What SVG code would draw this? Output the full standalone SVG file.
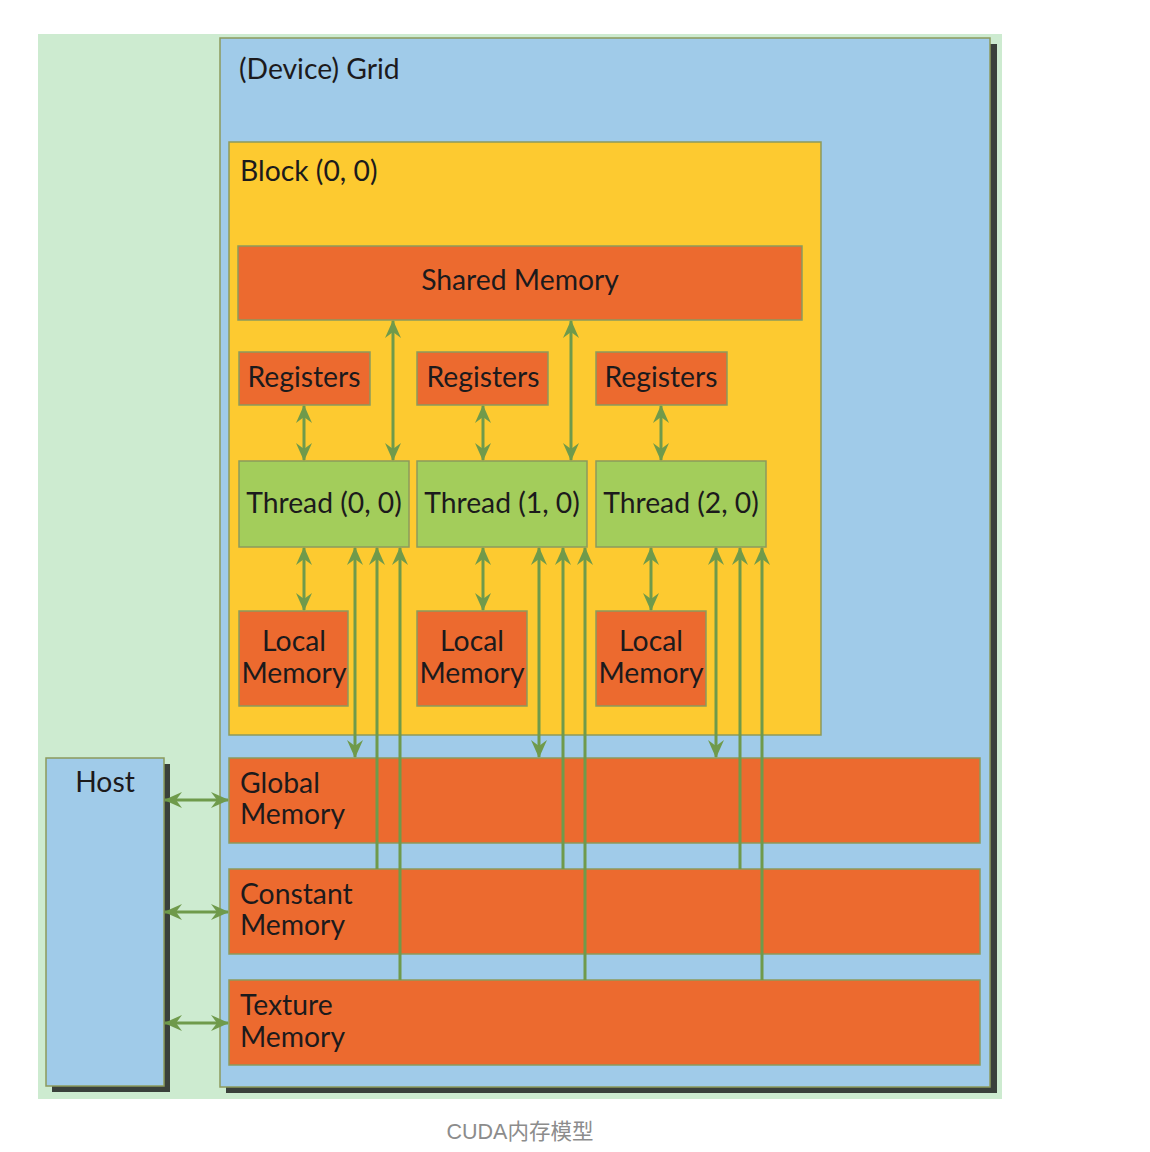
<svg xmlns="http://www.w3.org/2000/svg" width="1150" height="1152" viewBox="0 0 1150 1152">
<style>
.t{font-family:Lato,"Noto Sans","Liberation Sans",sans-serif;font-size:28.3px;fill:#1c1a1c}
.c{text-anchor:middle}
.box{stroke:#8c9a5c;stroke-width:1.5}
.mem{fill:#ec6a2f}
.thr{fill:#a3cd5b}
.ar{stroke:#6f9a4b;stroke-width:3;fill:none}
.shadow{fill:#3a403b}
</style>
<defs>
<marker id="ah" viewBox="0 0 18 16" refX="17" refY="8" markerWidth="18" markerHeight="16" markerUnits="userSpaceOnUse" orient="auto-start-reverse">
<path d="M0,0 L18,8 L0,16 L6,8 z" fill="#6f9a4b"/>
</marker>
</defs>
<rect x="0" y="0" width="1150" height="1152" fill="#ffffff"/>
<rect x="38" y="34" width="964" height="1065" fill="#cdebd0"/>
<g id="grid">
<rect class="shadow" x="226" y="44" width="771" height="1049"/>
<rect class="box" x="220" y="38" width="770" height="1049" fill="#a0cbe9"/>
<text class="t" x="239" y="79">(Device) Grid</text>
</g>
<g id="host">
<rect class="shadow" x="52" y="764" width="118" height="328"/>
<rect class="box" x="46" y="758" width="118" height="328" fill="#a0cbe9"/>
<text class="t c" x="105" y="792">Host</text>
</g>
<g id="block">
<rect class="box" x="229" y="142" width="592" height="593" fill="#fdca30"/>
<text class="t" x="240" y="181">Block (0, 0)</text>
</g>
<g id="shared">
<rect class="box mem" x="238" y="246" width="564" height="74"/>
<text class="t c" x="520" y="290">Shared Memory</text>
</g>
<g id="reg0"><rect class="box mem" x="239" y="352" width="131" height="53"/><text class="t c" x="304" y="387">Registers</text></g>
<g id="reg1"><rect class="box mem" x="417" y="352" width="131" height="53"/><text class="t c" x="483" y="387">Registers</text></g>
<g id="reg2"><rect class="box mem" x="596" y="352" width="131" height="53"/><text class="t c" x="661" y="387">Registers</text></g>
<g id="thread0"><rect class="box thr" x="239" y="461" width="170" height="86"/><text class="t c" x="324" y="513">Thread (0, 0)</text></g>
<g id="thread1"><rect class="box thr" x="417" y="461" width="170" height="86"/><text class="t c" x="502" y="513">Thread (1, 0)</text></g>
<g id="thread2"><rect class="box thr" x="596" y="461" width="170" height="86"/><text class="t c" x="681" y="513">Thread (2, 0)</text></g>
<g id="local0"><rect class="box mem" x="239" y="611" width="109" height="95"/><text class="t c" x="294" y="651">Local</text><text class="t c" x="294" y="683">Memory</text></g>
<g id="local1"><rect class="box mem" x="417" y="611" width="110" height="95"/><text class="t c" x="472" y="651">Local</text><text class="t c" x="472" y="683">Memory</text></g>
<g id="local2"><rect class="box mem" x="596" y="611" width="110" height="95"/><text class="t c" x="651" y="651">Local</text><text class="t c" x="651" y="683">Memory</text></g>
<g id="global"><rect class="box mem" x="229" y="758" width="751" height="85"/><text class="t" x="240" y="793">Global</text><text class="t" x="240" y="824">Memory</text></g>
<g id="constant"><rect class="box mem" x="229" y="869" width="751" height="85"/><text class="t" x="240" y="904">Constant</text><text class="t" x="240" y="935">Memory</text></g>
<g id="texture"><rect class="box mem" x="229" y="980" width="751" height="85"/><text class="t" x="240" y="1015">Texture</text><text class="t" x="240" y="1047">Memory</text></g>
<g id="connectors">
<line class="ar" x1="393" y1="321" x2="393" y2="460" marker-start="url(#ah)" marker-end="url(#ah)"/>
<line class="ar" x1="571" y1="321" x2="571" y2="460" marker-start="url(#ah)" marker-end="url(#ah)"/>
<line class="ar" x1="304" y1="406" x2="304" y2="460" marker-start="url(#ah)" marker-end="url(#ah)"/>
<line class="ar" x1="483" y1="406" x2="483" y2="460" marker-start="url(#ah)" marker-end="url(#ah)"/>
<line class="ar" x1="661" y1="406" x2="661" y2="460" marker-start="url(#ah)" marker-end="url(#ah)"/>
<line class="ar" x1="304" y1="548" x2="304" y2="610" marker-start="url(#ah)" marker-end="url(#ah)"/>
<line class="ar" x1="483" y1="548" x2="483" y2="610" marker-start="url(#ah)" marker-end="url(#ah)"/>
<line class="ar" x1="651" y1="548" x2="651" y2="610" marker-start="url(#ah)" marker-end="url(#ah)"/>
<line class="ar" x1="355" y1="548" x2="355" y2="757" marker-start="url(#ah)" marker-end="url(#ah)"/>
<line class="ar" x1="539" y1="548" x2="539" y2="757" marker-start="url(#ah)" marker-end="url(#ah)"/>
<line class="ar" x1="716" y1="548" x2="716" y2="757" marker-start="url(#ah)" marker-end="url(#ah)"/>
<line class="ar" x1="377" y1="869" x2="377" y2="548" marker-end="url(#ah)"/>
<line class="ar" x1="563" y1="869" x2="563" y2="548" marker-end="url(#ah)"/>
<line class="ar" x1="740" y1="869" x2="740" y2="548" marker-end="url(#ah)"/>
<line class="ar" x1="400" y1="980" x2="400" y2="548" marker-end="url(#ah)"/>
<line class="ar" x1="585" y1="980" x2="585" y2="548" marker-end="url(#ah)"/>
<line class="ar" x1="762" y1="980" x2="762" y2="548" marker-end="url(#ah)"/>
<line class="ar" x1="165" y1="800" x2="228" y2="800" marker-start="url(#ah)" marker-end="url(#ah)"/>
<line class="ar" x1="165" y1="912" x2="228" y2="912" marker-start="url(#ah)" marker-end="url(#ah)"/>
<line class="ar" x1="165" y1="1023" x2="228" y2="1023" marker-start="url(#ah)" marker-end="url(#ah)"/>
</g>
<text x="520" y="1139" text-anchor="middle" style="font-family:'Liberation Sans','Noto Sans CJK SC',sans-serif;font-size:21.5px;fill:#8c8c8c">CUDA内存模型</text>
</svg>
